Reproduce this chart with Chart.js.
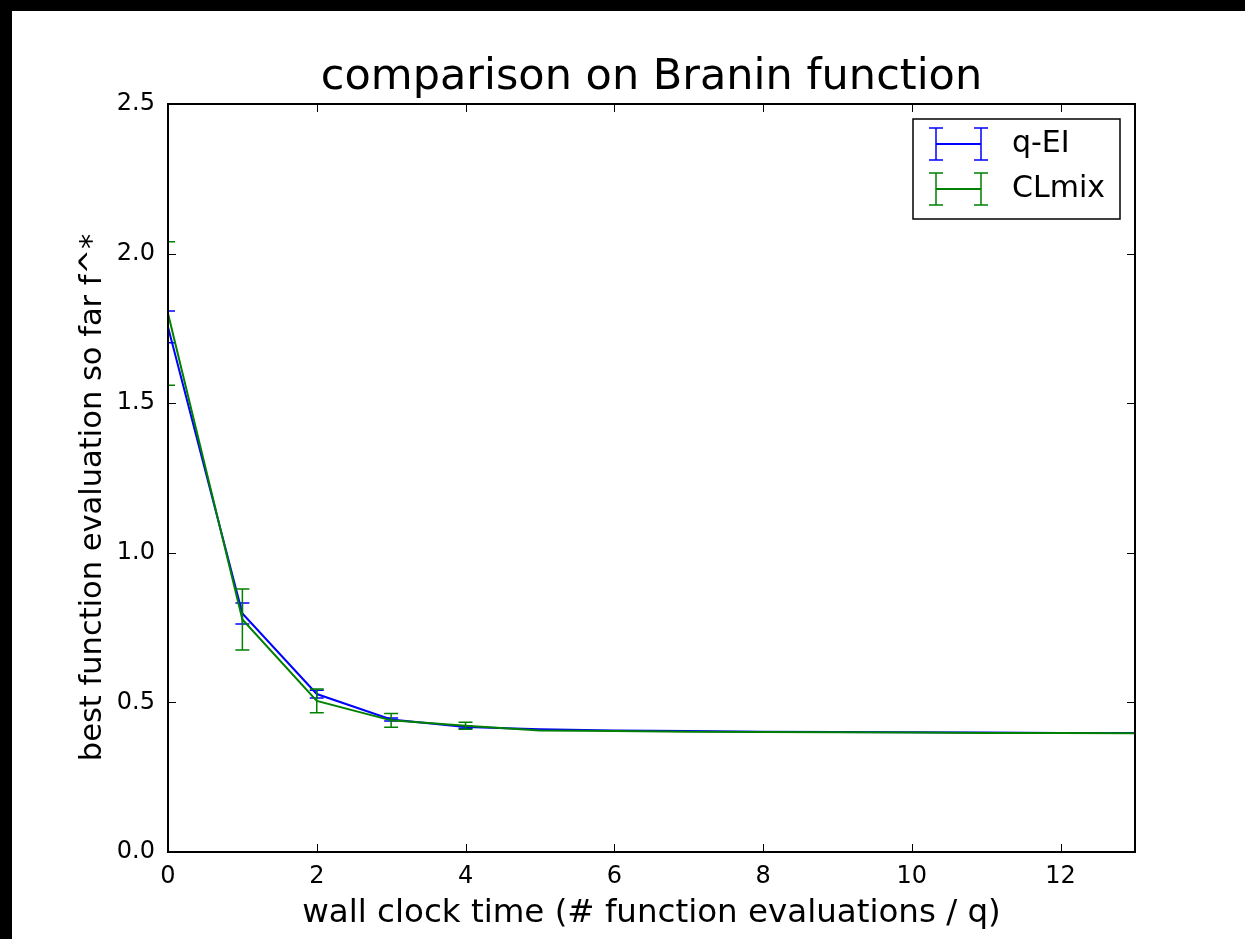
<!DOCTYPE html>
<html>
<head>
<meta charset="utf-8">
<title>comparison on Branin function</title>
<script src="https://cdn.jsdelivr.net/npm/chart.js@4.4.0/dist/chart.umd.min.js"></script>
<style>
  html, body { margin: 0; padding: 0; background: #000; }
  #wrap { position: absolute; left: 12px; top: 11px; width: 1233px; height: 928px; background: #fff; }
</style>
</head>
<body>
<div id="wrap"><canvas id="chart" width="1233" height="928"></canvas></div>
<script>
// wall clock time steps
var steps = [0, 1, 2, 3, 4, 5, 6, 7, 8, 9, 10, 11, 12, 13];
// q-EI mean and error
var qeiMean = [1.755, 0.797, 0.528, 0.443, 0.418, 0.410, 0.406, 0.404, 0.402, 0.401, 0.400, 0.399, 0.398, 0.398];
var qeiErr  = [0.053, 0.035, 0.013, 0.005, 0.004, 0, 0, 0, 0, 0, 0, 0, 0, 0];
// CLmix mean and error
var clmixMean = [1.800, 0.777, 0.505, 0.440, 0.422, 0.406, 0.404, 0.402, 0.401, 0.400, 0.399, 0.398, 0.398, 0.397];
var clmixErr  = [0.240, 0.102, 0.040, 0.023, 0.012, 0, 0, 0, 0, 0, 0, 0, 0, 0];

var FONT = 'DejaVu Sans';

var toPoints = function(xs, ys){
	return xs.map(function(x, i){ return {x: x, y: ys[i]}; });
};

// error bars, drawn right after each dataset so green stays on top
var errorBars = {
	id: 'errorBars',
	afterDatasetDraw: function(chart, args){
		var ds = chart.data.datasets[args.index];
		if (!ds.errors) return;
		var xs = chart.scales.x, ys = chart.scales.y, ca = chart.chartArea;
		var ctx = chart.ctx;
		ctx.save();
		ctx.beginPath();
		ctx.rect(ca.left, ca.top, ca.right - ca.left, ca.bottom - ca.top);
		ctx.clip();
		ctx.strokeStyle = ds.borderColor;
		ctx.lineWidth = 1.5;
		ds.data.forEach(function(p, i){
			var e = ds.errors[i];
			if (!e) return;
			var px = xs.getPixelForValue(p.x);
			var top = ys.getPixelForValue(p.y + e);
			var bot = ys.getPixelForValue(p.y - e);
			ctx.beginPath();
			ctx.moveTo(px, top); ctx.lineTo(px, bot);
			ctx.moveTo(px - 7, top); ctx.lineTo(px + 7, top);
			ctx.moveTo(px - 7, bot); ctx.lineTo(px + 7, bot);
			ctx.stroke();
		});
		ctx.restore();
	}
};

// frame, inward ticks on all sides, errorbar legend
var frame = {
	id: 'frame',
	afterDraw: function(chart){
		var ctx = chart.ctx, ca = chart.chartArea;
		var xs = chart.scales.x, ys = chart.scales.y;
		ctx.save();
		ctx.strokeStyle = '#000';
		ctx.lineWidth = 1;
		ctx.beginPath();
		xs.ticks.forEach(function(t){
			var px = Math.round(xs.getPixelForValue(t.value)) + 0.5;
			ctx.moveTo(px, ca.bottom); ctx.lineTo(px, ca.bottom - 8);
			ctx.moveTo(px, ca.top); ctx.lineTo(px, ca.top + 8);
		});
		ys.ticks.forEach(function(t){
			var py = Math.round(ys.getPixelForValue(t.value)) + 0.5;
			ctx.moveTo(ca.left, py); ctx.lineTo(ca.left + 8, py);
			ctx.moveTo(ca.right, py); ctx.lineTo(ca.right - 8, py);
		});
		ctx.stroke();
		ctx.lineWidth = 2;
		ctx.strokeRect(ca.left, ca.top, ca.right - ca.left, ca.bottom - ca.top);

		// legend box
		var bx = 901, by = 108, bw = 207, bh = 100;
		ctx.fillStyle = '#fff';
		ctx.fillRect(bx, by, bw, bh);
		ctx.lineWidth = 1.5;
		ctx.strokeRect(bx, by, bw, bh);
		ctx.font = '30px "' + FONT + '"';
		ctx.textBaseline = 'middle';
		chart.data.datasets.forEach(function(ds, i){
			var cy = 133 + i * 45;
			var x1 = 924, x2 = 969;
			ctx.strokeStyle = ds.borderColor;
			ctx.lineWidth = 2;
			ctx.beginPath();
			ctx.moveTo(x1, cy); ctx.lineTo(x2, cy);
			ctx.stroke();
			ctx.lineWidth = 1.5;
			ctx.beginPath();
			[x1, x2].forEach(function(x){
				ctx.moveTo(x, cy - 16); ctx.lineTo(x, cy + 16);
				ctx.moveTo(x - 7, cy - 16); ctx.lineTo(x + 7, cy - 16);
				ctx.moveTo(x - 7, cy + 16); ctx.lineTo(x + 7, cy + 16);
			});
			ctx.stroke();
			ctx.fillStyle = '#000';
			ctx.fillText(ds.label, 1000, cy);
		});
		ctx.restore();
	}
};

var chart = new Chart(document.getElementById('chart'), {
	type: 'line',
	data: {
		datasets: [
			{
				label: 'q-EI',
				data: toPoints(steps, qeiMean),
				errors: qeiErr,
				borderColor: '#0000ff',
				borderWidth: 2,
				pointRadius: 0,
				fill: false,
				tension: 0,
				order: 2
			},
			{
				label: 'CLmix',
				data: toPoints(steps, clmixMean),
				errors: clmixErr,
				borderColor: '#008000',
				borderWidth: 2,
				pointRadius: 0,
				fill: false,
				tension: 0,
				order: 1
			}
		]
	},
	options: {
		responsive: false,
		animation: false,
		layout: { padding: { left: 0, right: 110, top: 0, bottom: 0 } },
		plugins: {
			legend: { display: false },
			tooltip: { enabled: false }
		},
		scales: {
			x: {
				type: 'linear',
				min: 0,
				max: 13,
				grid: { display: false },
				border: { display: false },
				ticks: {
					stepSize: 2,
					includeBounds: false,
					autoSkip: false,
					maxRotation: 0,
					padding: 2,
					color: '#000',
					font: { family: FONT, size: 24 }
				},
				title: {
					display: true,
					text: 'wall clock time (# function evaluations / q)',
					color: '#000',
					font: { family: FONT, size: 32.5, lineHeight: 1.2 },
					padding: { top: 0, bottom: 6 }
				},
				afterFit: function(s){ s.height = 87; }
			},
			// top axis only carries the chart title, centred over the plot
			top: {
				type: 'linear',
				position: 'top',
				min: 0,
				max: 13,
				grid: { display: false },
				border: { display: false },
				ticks: { display: false },
				title: {
					display: true,
					text: 'comparison on Branin function',
					color: '#000',
					font: { family: FONT, size: 43, lineHeight: 1.2 },
					padding: { top: 41, bottom: 0 }
				},
				afterFit: function(s){ s.height = 93; }
			},
			y: {
				type: 'linear',
				min: 0,
				max: 2.5,
				grid: { display: false },
				border: { display: false },
				ticks: {
					stepSize: 0.5,
					padding: 5,
					color: '#000',
					font: { family: FONT, size: 24 },
					callback: function(v){ return v.toFixed(1); }
				},
				title: {
					display: true,
					text: 'best function evaluation so far f^*    ',
					color: '#000',
					font: { family: FONT, size: 30.5, lineHeight: 1.2 },
					padding: { top: 63, bottom: 0 }
				},
				afterFit: function(s){ s.width = 156; }
			}
		}
	},
	plugins: [errorBars, frame]
});
</script>
</body>
</html>
